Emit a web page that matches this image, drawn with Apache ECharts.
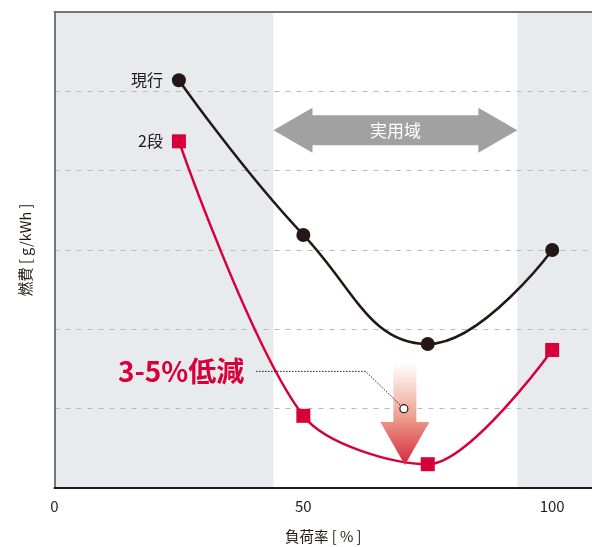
<!DOCTYPE html>
<html><head><meta charset="utf-8">
<script src="https://cdn.jsdelivr.net/npm/echarts@6/dist/echarts.min.js"></script>
<style>html,body{margin:0;padding:0;background:#fff}#c{width:592px;height:547px}</style>
</head><body><div id="c"></div>
<script>
// ---- data ----
const loads = [25, 50, 75, 100];               // 負荷率 [%]
const currentFuel = [5.14, 3.19, 1.815, 3.0];   // 現行
const twoStageFuel = [4.37, 0.91, 0.30, 1.74];  // 2段
const xTickLabels = [0, 50, 100];
const shadedBands = [[0, 44], [93, 108]];
const practicalRange = [44, 93];               // 実用域
const seriesNames = ['現行', '2段'];

const FONT = '"Noto Sans CJK JP", "Noto Sans", sans-serif';
const INK = '#231815';
const RED = '#d7003a';
const FRAME = '#7a7574';

const chart = echarts.init(document.getElementById('c'));
const pair = (xs, ys) => xs.map((x, i) => [x, ys[i]]);

function withFirstLabel(points, text) {
  return points.map((p, i) => i === 0 ? {
    value: p,
    label: { show: true, formatter: text, position: 'left', distance: 9,
             fontFamily: FONT, fontSize: 16, color: INK }
  } : { value: p });
}

chart.setOption({
  animation: false,
  grid: { left: 54.5, right: 0, top: 12, bottom: 59, outerBoundsMode: 'none', containLabel: false },
  xAxis: [{
    type: 'value', min: 0, max: 108, interval: 50, z: 1.5,
    name: '負荷率 [ % ]', nameLocation: 'middle', nameGap: 41,
    nameTextStyle: { fontFamily: FONT, fontSize: 14.5, color: INK },
    axisLine: { show: true, lineStyle: { color: INK, width: 2 } },
    axisTick: { show: false },
    splitLine: { show: false },
    axisLabel: { fontFamily: FONT, fontSize: 15, color: INK, margin: 11,
      formatter: v => xTickLabels.includes(v) ? String(v) : '' }
  }, {
    type: 'value', min: 0, max: 108, position: 'top', z: 1.5,
    axisLine: { show: true, lineStyle: { color: FRAME, width: 2 } },
    axisTick: { show: false }, axisLabel: { show: false }, splitLine: { show: false }
  }],
  yAxis: {
    type: 'value', min: 0, max: 6, interval: 1, z: 1.5,
    name: '燃費 [ g/kWh ]', nameLocation: 'middle', nameGap: 22,
    nameTextStyle: { fontFamily: FONT, fontSize: 14.5, color: INK },
    axisLine: { show: true, lineStyle: { color: FRAME, width: 2 } },
    axisTick: { show: false }, axisLabel: { show: false },
    splitLine: { show: true, lineStyle: { color: '#b9b9b9', type: [5, 6], width: 1 } }
  },
  series: [{
    type: 'line', data: [], z: 1, silent: true,
    markArea: { silent: true, itemStyle: { color: '#e8ebee' },
      data: shadedBands.map(b => [{ xAxis: b[0] }, { xAxis: b[1] }]) }
  }, {
    name: seriesNames[0], type: 'line', z: 2, smooth: 0.45,
    data: withFirstLabel(pair(loads, currentFuel), seriesNames[0]),
    symbol: 'circle', symbolSize: 14,
    lineStyle: { color: INK, width: 2.5 }, itemStyle: { color: INK }
  }, {
    name: seriesNames[1], type: 'line', z: 2, smooth: 0.3,
    data: withFirstLabel(pair(loads, twoStageFuel), seriesNames[1]),
    symbol: 'rect', symbolSize: 14,
    lineStyle: { color: RED, width: 2.5 }, itemStyle: { color: RED }
  }]
});

// ---- annotations placed through the axes' scales ----
const px = (x, y) => chart.convertToPixel({ gridIndex: 0 }, [x, y]);
const arrowLevel = 4.51;
const downArrow = { x: 70.4, top: 1.58, tip: 0.29 };
const leader = { start: [40.5, 1.47], elbow: [62.5, 1.47], end: [70.2, 1.0] };
const reductionText = { x: 12.75, y: 1.47, text: '3-5%低減' };

const a1 = px(practicalRange[0], arrowLevel), a2 = px(practicalRange[1], arrowLevel);
const yc = a1[1], hl = 39, hh = 22.5, sh = 15;
const hPoints = [
  [a1[0], yc], [a1[0] + hl, yc - hh], [a1[0] + hl, yc - sh], [a2[0] - hl, yc - sh],
  [a2[0] - hl, yc - hh], [a2[0], yc], [a2[0] - hl, yc + hh], [a2[0] - hl, yc + sh],
  [a1[0] + hl, yc + sh], [a1[0] + hl, yc + hh]
];

const dTop = px(downArrow.x, downArrow.top), dTip = px(downArrow.x, downArrow.tip);
const dx = dTop[0], headLen = 43, sw = 11.5, hw = 24.5;
const dPoints = [
  [dx - sw, dTop[1]], [dx + sw, dTop[1]], [dx + sw, dTip[1] - headLen],
  [dx + hw, dTip[1] - headLen], [dx, dTip[1]], [dx - hw, dTip[1] - headLen],
  [dx - sw, dTip[1] - headLen]
];

const l0 = px(...leader.start), l1 = px(...leader.elbow), l2 = px(...leader.end);
const tp = px(reductionText.x, reductionText.y);

chart.setOption({
  graphic: [
    { type: 'polygon', z: 10, shape: { points: hPoints }, style: { fill: '#a0a1a0' } },
    { type: 'text', z: 11, x: (a1[0] + a2[0]) / 2, y: yc,
      style: { text: '実用域', fill: '#ffffff', font: '17px ' + FONT, align: 'center', verticalAlign: 'middle' } },
    { type: 'polygon', z: 10, shape: { points: dPoints },
      style: { fill: new echarts.graphic.LinearGradient(0, 0, 0, 1, [
        { offset: 0, color: 'rgba(255,255,255,0.9)' },
        { offset: 0.55, color: '#ec9a8a' },
        { offset: 1, color: '#d5263b' }]) } },
    { type: 'polyline', z: 12, shape: { points: [l0, l1, l2] },
      style: { stroke: INK, lineWidth: 1, lineDash: [1.5, 1.5], fill: null } },
    { type: 'circle', z: 13, shape: { cx: l2[0], cy: l2[1], r: 4 },
      style: { fill: '#fff', stroke: INK, lineWidth: 1.2 } },
    { type: 'text', z: 11, x: tp[0], y: tp[1],
      style: { text: reductionText.text, fill: RED, font: 'bold 28px ' + FONT, align: 'left', verticalAlign: 'middle' } }
  ]
});
</script></body></html>
